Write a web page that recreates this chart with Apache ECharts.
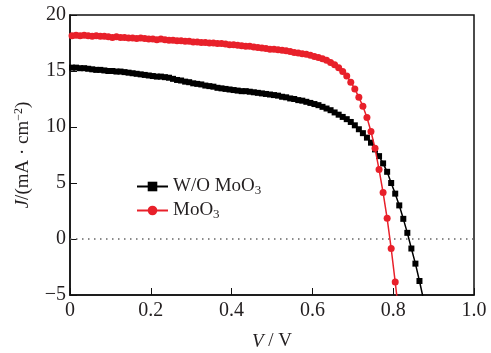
<!DOCTYPE html>
<html>
<head>
<meta charset="utf-8">
<script src="https://cdn.jsdelivr.net/npm/echarts@6/dist/echarts.min.js"></script>
<style>html,body{margin:0;padding:0;background:#fff;}#c{width:491px;height:353px;}</style>
</head>
<body>
<div id="c"></div>
<script>
// Voltage samples (V)
const voltage = [0.005,0.015,0.025,0.035,0.045,0.055,0.065,0.075,0.085,0.095,
0.105,0.115,0.125,0.135,0.145,0.155,0.165,0.175,0.185,0.195,
0.205,0.215,0.225,0.235,0.245,0.255,0.265,0.275,0.285,0.295,
0.305,0.315,0.325,0.335,0.345,0.355,0.365,0.375,0.385,0.395,
0.405,0.415,0.425,0.435,0.445,0.455,0.465,0.475,0.485,0.495,
0.505,0.515,0.525,0.535,0.545,0.555,0.565,0.575,0.585,0.595,
0.605,0.615,0.625,0.635,0.645,0.655,0.665,0.675,0.685,0.695,
0.705,0.715,0.725,0.735,0.745,0.755,0.765,0.775,0.785,0.795,
0.805,0.815,0.825,0.835,0.845,0.855,0.865,0.875];
// Current density without MoO3 (mA/cm2)
const jWithout = [15.3,15.3,15.25,15.25,15.2,15.15,15.1,15.1,15.05,15.0,
15.0,14.95,14.95,14.9,14.85,14.8,14.75,14.7,14.65,14.6,
14.55,14.5,14.5,14.45,14.4,14.3,14.2,14.15,14.05,14.0,
13.9,13.85,13.8,13.7,13.65,13.6,13.5,13.45,13.4,13.35,
13.3,13.25,13.2,13.2,13.15,13.1,13.05,13.0,12.95,12.9,
12.85,12.8,12.7,12.65,12.55,12.5,12.4,12.35,12.25,12.15,
12.05,11.95,11.8,11.65,11.5,11.3,11.1,10.9,10.7,10.45,
10.15,9.8,9.45,9.05,8.6,8.0,7.4,6.75,6.0,5.0,
4.05,3.0,1.8,0.55,-0.85,-2.2,-3.75,-5.4];
// Current density with MoO3 (mA/cm2)
const jWith = [18.15,18.2,18.15,18.2,18.15,18.1,18.15,18.1,18.1,18.05,
18.0,18.05,18.0,18.0,17.95,17.95,17.9,17.95,17.9,17.85,
17.85,17.8,17.85,17.8,17.75,17.75,17.7,17.7,17.65,17.65,
17.6,17.6,17.55,17.55,17.5,17.5,17.45,17.45,17.4,17.35,
17.35,17.3,17.25,17.2,17.2,17.15,17.1,17.05,17.0,16.95,
16.95,16.9,16.85,16.8,16.75,16.65,16.6,16.55,16.5,16.4,
16.3,16.2,16.1,15.95,15.75,15.55,15.3,14.95,14.55,14.0,
13.4,12.65,11.85,10.85,9.6,8.1,6.2,4.15,1.85,-0.85,
-3.85,-7.0];
// Zero reference line
const zeroLineV = [0, 1];
const zeroLineJ = [0, 0];
const seriesNames = ['W/O MoO3', 'MoO3'];
const legendLabels = {'W/O MoO3': 'W/O MoO{sub|3}', 'MoO3': 'MoO{sub|3}'};
const xTicks = {min: 0, max: 1, step: 0.2};
const yTicks = {min: -5, max: 20, step: 5};

const font = 'Liberation Serif';
const ink = '#231f20';
const pair = (xs, ys) => ys.map((y, i) => [xs[i], y]);

const chart = echarts.init(document.getElementById('c'), null, {renderer: 'canvas'});
chart.setOption({
  animation: false,
  backgroundColor: '#fff',
  grid: {left: 70, right: 17, top: 15, bottom: 58, outerBoundsMode: 'none', containLabel: false,
    show: true, borderColor: '#111', borderWidth: 1.5, backgroundColor: 'transparent'},
  legend: {
    orient: 'vertical', left: 136, top: 177, padding: 0, itemWidth: 31, itemHeight: 12, itemGap: 4,
    data: seriesNames,
    formatter: n => legendLabels[n],
    textStyle: {fontFamily: font, fontSize: 19, color: ink,
      rich: {sub: {fontFamily: font, fontSize: 13, color: ink, verticalAlign: 'bottom', padding: [8, 0, 0, 0]}}}
  },
  xAxis: {
    type: 'value', min: xTicks.min, max: xTicks.max, interval: xTicks.step,
    name: '{i|V} / V', nameLocation: 'middle', nameGap: 37,
    nameTextStyle: {fontFamily: font, fontSize: 19, color: ink, rich: {i: {fontFamily: font, fontSize: 19, fontStyle: 'italic', color: ink}}},
    axisLine: {onZero: false, lineStyle: {color: '#111', width: 1.5}},
    axisTick: {inside: true, length: 7, lineStyle: {color: '#111', width: 1}},
    axisLabel: {fontFamily: font, fontSize: 20, color: ink, margin: 6,
      formatter: v => (v === 0 ? '0' : v.toFixed(1))},
    splitLine: {show: false}
  },
  yAxis: {
    type: 'value', min: yTicks.min, max: yTicks.max, interval: yTicks.step,
    name: '{i|J}/(mA · cm{sup|−2})', nameLocation: 'middle', nameGap: 37, nameRotate: 90,
    nameTextStyle: {fontFamily: font, fontSize: 19, color: ink,
      rich: {i: {fontFamily: font, fontSize: 19, fontStyle: 'italic', color: ink},
             sup: {fontFamily: font, fontSize: 12, color: ink, verticalAlign: 'top', padding: [0, 0, 8, 0]}}},
    axisLine: {onZero: false, lineStyle: {color: '#111', width: 1.5}},
    axisTick: {inside: true, length: 7, lineStyle: {color: '#111', width: 1}},
    axisLabel: {fontFamily: font, fontSize: 20, color: ink, margin: 4,
      formatter: v => (v < 0 ? '\u2212' + Math.abs(v) : String(v))},
    splitLine: {show: false}
  },
  series: [
    {
      name: 'zero', type: 'line', data: pair(zeroLineV, zeroLineJ), symbol: 'none', silent: true,
      lineStyle: {color: '#666', width: 1.5, type: [1.5, 4.5]}, z: 1
    },
    {
      name: seriesNames[0], type: 'line', data: pair(voltage, jWithout),
      symbol: 'rect', symbolSize: 6, clip: true,
      lineStyle: {color: '#000', width: 1.5}, itemStyle: {color: '#000'},
      z: 2
    },
    {
      name: seriesNames[1], type: 'line', data: pair(voltage, jWith),
      symbol: 'circle', symbolSize: 7, clip: true,
      lineStyle: {color: '#e8202a', width: 1.5}, itemStyle: {color: '#e8202a'},
      z: 3
    }
  ]
});
</script>
</body>
</html>
